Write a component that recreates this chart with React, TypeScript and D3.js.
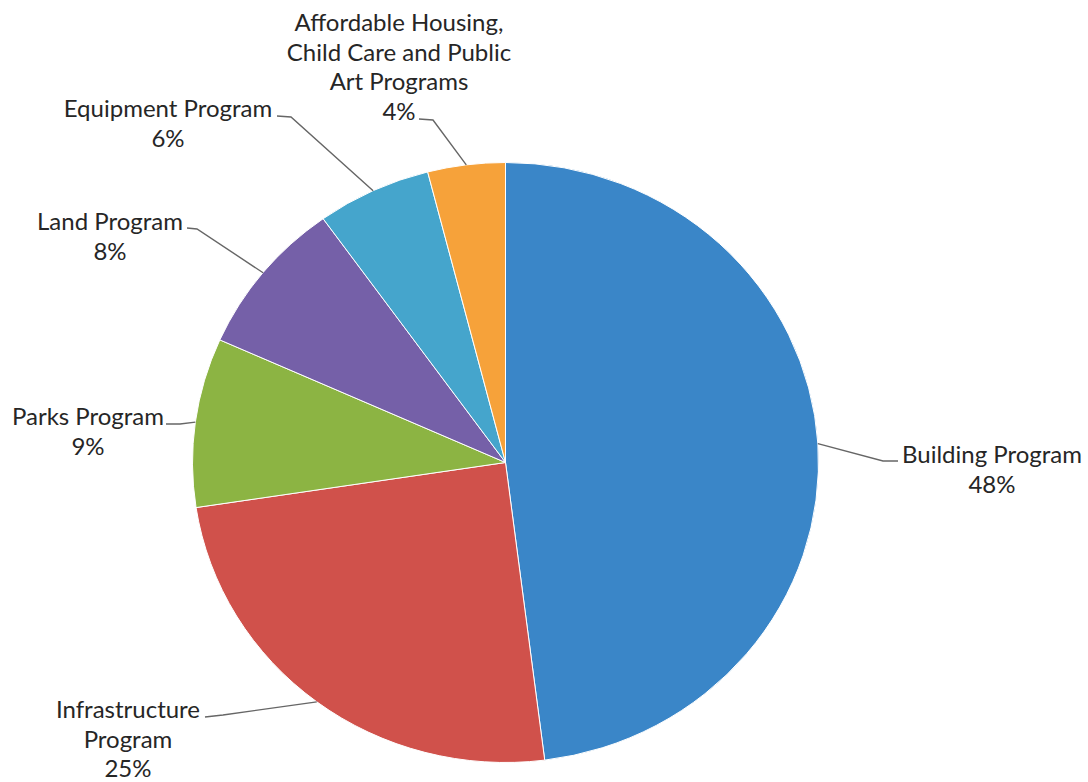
import React, { useEffect, useRef } from 'react';
import * as d3 from 'd3';

// Share of the capital program by component (percent)
const programs = [
  'Building Program',
  'Infrastructure Program',
  'Parks Program',
  'Land Program',
  'Equipment Program',
  'Affordable Housing, Child Care and Public Art Programs',
];
const shares = [48.0, 24.6, 9.1, 8.4, 5.9, 4.0];
const colors = ['#3a86c8', '#d0514b', '#8cb443', '#7560a8', '#45a5cc', '#f6a23a'];

// Label text broken into lines the way the source chart shows them
const labelLines = [
  ['Building Program'],
  ['Infrastructure', 'Program'],
  ['Parks Program'],
  ['Land Program'],
  ['Equipment Program'],
  ['Affordable Housing,', 'Child Care and Public', 'Art Programs'],
];

// Where each label sits and the leader path from the text to the pie edge
const labelLayout = [
  { x: 992, y: 463, leader: [[898, 461], [883, 461]] },
  { x: 128, y: 718, leader: [[205, 717], [223, 715]] },
  { x: 88, y: 425, leader: [[166, 424], [180, 424]] },
  { x: 110, y: 230, leader: [[187, 228], [197, 229]] },
  { x: 168, y: 117, leader: [[277, 116], [291, 117]] },
  { x: 399, y: 31, leader: [[419, 119], [433, 120]] },
];

const width = 1088;
const height = 782;
const cx = 505.5;
const cy = 462.5;
const ry = 300;
const rx = 313;
const lineHeight = 29.5;

export default function App() {
  const svgRef = useRef<SVGSVGElement>(null);

  useEffect(() => {
    if (!svgRef.current) return;
    const svg = d3.select(svgRef.current);
    svg.selectAll('*').remove();

    const data = programs.map((name, i) => ({ name, value: shares[i], i }));

    const pie = d3.pie<any>().value(d => d.value).sort(null);
    const arcs = pie(data);
    const arc = d3.arc<any>().innerRadius(0).outerRadius(ry);
    const edge = d3.arc<any>().innerRadius(ry).outerRadius(ry);

    // the scanned pie is a little wider than tall
    const g = svg
      .append('g')
      .attr('transform', `translate(${cx},${cy}) scale(${rx / ry},1)`);

    g.selectAll('path')
      .data(arcs)
      .enter()
      .append('path')
      .attr('d', arc)
      .attr('fill', d => colors[d.data.i])
      .attr('stroke', '#ffffff')
      .attr('stroke-width', 1)
      .attr('vector-effect', 'non-scaling-stroke');

    const line = d3.line();

    arcs.forEach(a => {
      const i = a.data.i;
      const [ex, ey] = edge.centroid(a);
      const end: [number, number] = [cx + ex * (rx / ry), cy + ey];
      const lay = labelLayout[i];
      const pts = [...lay.leader, end] as [number, number][];

      svg
        .append('path')
        .attr('d', line(pts))
        .attr('fill', 'none')
        .attr('stroke', '#666666')
        .attr('stroke-width', 1.4);

      const lines = [...labelLines[i], `${Math.round(shares[i])}%`];
      const text = svg
        .append('text')
        .attr('x', lay.x)
        .attr('y', lay.y)
        .attr('text-anchor', 'middle')
        .style('font-family', 'Lato, sans-serif')
        .style('font-size', '24px')
        .style('fill', '#262626');

      lines.forEach((l, k) => {
        text
          .append('tspan')
          .attr('x', lay.x)
          .attr('dy', k === 0 ? 0 : lineHeight)
          .text(l);
      });
    });
  }, []);

  return (
    <svg
      ref={svgRef}
      width={width}
      height={height}
      style={{ position: 'absolute', left: 0, top: 0, background: '#ffffff' }}
    />
  );
}
